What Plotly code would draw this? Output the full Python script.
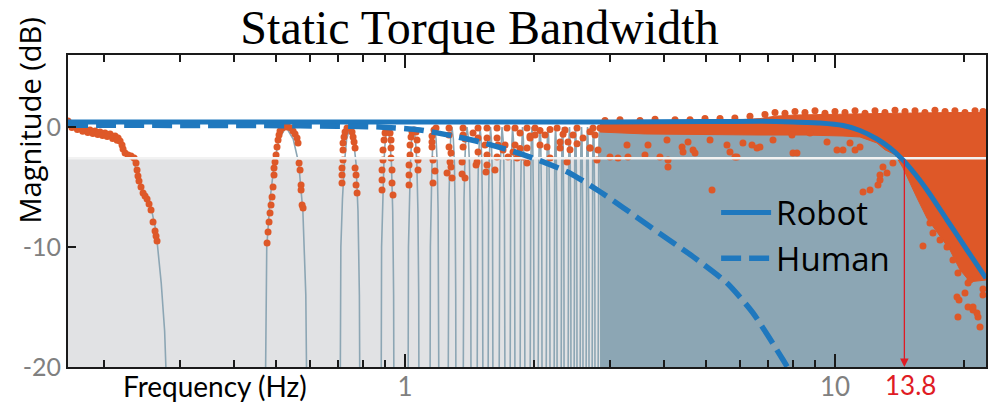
import numpy as np
import plotly.graph_objects as go

# ---------------- axes / reference values ----------------
x_range_hz = [0.1645, 22.45]
y_range_db = [-20, 6]
robot_dc_db = 0.4
cutoff_db = robot_dc_db - 3.0
bandwidth_arrow_hz = 14.5
bandwidth_label = "13.8"

x_tick_vals = [1, 10]
x_tick_text = ["1", "10"]
x_minor_vals = [0.2, 0.3, 0.4, 0.5, 0.6, 0.7, 0.8, 0.9, 2, 3, 4, 5, 6, 7, 8, 9, 20]
y_tick_vals = [0, -10, -20]
y_tick_text = ["0", "-10", "-20"]

# ---------------- model curves ----------------
robot_hz = [0.1645, 1, 3, 5, 6.7, 7.985, 9.23, 10.44, 11.43, 12.52, 13.43, 14.39, 15.35, 16.37, 18.22, 20.28, 22.45]
robot_db = [0.42, 0.42, 0.42, 0.45, 0.48, 0.42, 0.33, 0.12, -0.29, -1.0, -1.75, -2.75, -3.92, -5.25, -7.75, -10.25, -12.6]

human_hz = [0.1645, 0.57, 0.875, 1.084, 1.273, 1.494, 1.755, 2.059, 2.419, 2.842, 3.212, 3.711, 4.675, 5.609, 6.447, 7.57, 8.2]
human_db = [0.15, 0.1, 0.0, -0.25, -0.7, -1.25, -1.95, -2.8, -3.85, -5.4, -6.7, -8.3, -10.8, -13.0, -15.5, -19.4, -21.5]

# ---------------- human measurement (comb of lobes) ----------------
first_lobe_hz = [0.1645, 0.1754, 0.1881, 0.1984, 0.2094, 0.2151, 0.2209, 0.2257, 0.2318, 0.2368, 0.2419,
                 0.2459, 0.2525, 0.258, 0.2622, 0.265, 0.271, 0.276, 0.281]
first_lobe_db = [0.3, 0.0, -0.25, -0.5, -0.67, -0.92, -1.6, -2.3, -2.5, -3.5, -4.8,
                 -5.6, -6.3, -7.1, -8.3, -9.5, -13, -17, -25]
lobe_start_hz = [0.4726, 0.7062, 0.8796, 1.0162, 1.1432, 1.2589, 1.3645, 1.4705, 1.5596, 1.6543, 1.7549,
                 1.8513, 1.953, 2.038, 2.128, 2.221, 2.306, 2.394, 2.472, 2.553, 2.636, 2.722, 2.811]
lobe_end_hz = [0.5918, 0.7857, 0.9427, 1.0779, 1.1996, 1.3137, 1.4243, 1.5185, 1.6021, 1.7086, 1.8026,
               1.9011, 1.995, 2.083, 2.174, 2.258, 2.344, 2.432, 2.512, 2.594, 2.679, 2.766, 2.857]
lobe_profile_t = [0, 0.04, 0.12, 0.22, 0.33, 0.5, 0.67, 0.8, 0.9, 0.97, 1]
lobe_profile_db = [-25, -10, -6, -3, -1, 0, -1, -3, -7, -14, -25]
dense_band_hz = [2.85, 22.45]
dense_band_top_db = 0.2
dense_band_floor_db = -25

# ---------------- robot measurement (orange) ----------------
orange_cloud_hz = [2.84, 3.62, 4.60, 5.61, 6.69, 7.25, 8.07, 10.84, 14.17, 18.51, 22.45,
                   22.45, 20.61, 19.53, 18.51, 17.55, 16.37, 15.51, 14.94, 14.39, 13.79, 13.07, 12.52,
                   11.43, 10.44, 8.52, 6.69, 4.60, 3.62, 2.84]
orange_cloud_db = [0.4, 0.45, 0.5, 0.55, 0.7, 0.9, 1.0, 1.1, 1.15, 1.2, 1.2,
                   -12.75, -12.9, -11.9, -10.25, -9.1, -7.6, -5.9, -4.6, -3.4, -2.3, -1.9, -1.33,
                   -0.83, -0.75, -0.67, -0.67, -0.58, -0.58, -0.42]

low_dots_hz = [
    0.1645, 0.1663, 0.1708, 0.1754, 0.1802, 0.1851, 0.1902, 0.1953, 0.2006, 0.2061, 0.2117, 0.2151, 0.2174,
    0.2197, 0.2209, 0.2233, 0.2269, 0.2306, 0.2344, 0.2368, 0.2381, 0.2393, 0.2406, 0.2432, 0.2459, 0.2485,
    0.2512, 0.2539, 0.2566, 0.2594, 0.2622, 0.2636, 0.2650,
    0.1680, 0.1730, 0.1780, 0.1830, 0.1880, 0.1930, 0.1980, 0.2030, 0.2090, 0.2140,
    0.4777, 0.4802, 0.4828, 0.4853, 0.4880, 0.4906, 0.4932, 0.4958, 0.4958, 0.4985, 0.5012, 0.5038, 0.5066,
    0.5093, 0.5120, 0.5176, 0.5259, 0.5345, 0.5432, 0.5490, 0.5549, 0.5609, 0.5639, 0.5670, 0.5700, 0.5731,
    0.5731, 0.5762, 0.5793,
    0.7136, 0.7136, 0.7136, 0.7175, 0.7175, 0.7175, 0.7213, 0.7253, 0.7330, 0.7450, 0.7530, 0.7572, 0.7612,
    0.7653, 0.7653, 0.7693, 0.7693, 0.7736,
    0.8841, 0.8841, 0.8841, 0.8888, 0.8888, 0.8937, 0.8985, 0.9033, 0.9130, 0.9229, 0.9278, 0.9278, 0.9278,
    0.9328, 0.9328, 0.9378,
    1.0217, 1.0217, 1.0217, 1.0271, 1.0271, 1.0327, 1.0382, 1.0494, 1.0607, 1.0664, 1.0664, 1.0720, 1.0720,
]
low_dots_db = [
    0.5, 0.25, 0.08, -0.08, -0.17, -0.25, -0.33, -0.42, -0.5, -0.58, -0.75, -0.92, -1.17,
    -1.5, -1.83, -2.17, -2.33, -2.42, -2.58, -3.0, -3.58, -4.08, -4.5, -5.0, -5.5, -5.75,
    -6.0, -6.42, -6.92, -7.92, -8.67, -9.08, -9.5,
    -0.05, -0.2, -0.35, -0.45, -0.55, -0.62, -0.7, -0.8, -0.95, -1.1,
    -9.67, -8.75, -7.92, -7.17, -6.5, -5.83, -5.0, -4.0, -3.42, -2.92, -2.33, -1.67, -1.08,
    -0.67, -0.33, -0.08, 0.0, 0.0, -0.08, -0.33, -0.58, -0.92, -1.33, -3.0, -3.58, -4.83,
    -5.25, -6.5, -6.75,
    -4.67, -4.0, -3.42, -2.75, -1.92, -1.33, -0.83, -0.42, -0.08, -0.08, -0.42, -0.83, -1.25,
    -1.75, -3.42, -4.0, -4.83, -5.5,
    -5.25, -4.42, -3.58, -2.75, -1.92, -1.08, -0.5, -0.25, -0.25, -0.5, -1.08, -1.75, -2.58,
    -3.58, -4.67, -5.67,
    -4.83, -4.0, -3.17, -2.33, -1.5, -0.83, -0.42, -0.25, -0.42, -1.08, -1.92, -2.75, -3.58,
]

mid_dots_hz = [
    1.1555, 1.1555, 1.1617, 1.1742, 1.1679, 1.1805, 1.1617, 1.1555,
    1.2657, 1.2657, 1.2657, 1.2794, 1.2725, 1.2794, 1.2862, 1.2522,
    1.3645, 1.3645, 1.3645, 1.3572, 1.3572, 1.3791, 1.3791,
    1.4784, 1.4784, 1.4784, 1.4705, 1.4629, 1.4395,
    1.5512, 1.5512, 1.5512, 1.5512, 1.5430, 1.5346,
    1.6368, 1.6368, 1.6455, 1.6189, 1.6368,
    1.7269, 1.7086, 1.6904, 1.7361,
    1.8026, 1.8026, 1.7832, 1.8219, 1.8513, 1.8513,
    1.9218, 1.9218, 1.9218, 1.8812, 1.9530,
    2.0060, 2.0060, 1.9530, 2.0606, 2.0606,
    2.1163, 2.1392, 2.1742, 2.1742,
    2.2577, 2.2943, 2.2943,
    2.3560, 2.3812, 2.3940, 2.3310,
    2.4587, 2.5119, 2.5942, 2.4196, 2.5119,
    2.6928, 2.7364, 2.7660, 2.8408, 2.6928,
]
mid_dots_db = [
    -1.25, -1.67, -2.75, -3.67, -0.25, -0.08, -4.67, -0.75,
    -0.08, -0.67, -1.67, -2.17, -2.92, -3.33, -4.25, -3.83,
    -0.08, -0.67, -1.67, -2.92, -3.92, -4.25, -1.0,
    -0.08, -0.92, -2.08, -2.92, -3.17, -0.5,
    -0.08, -0.92, -2.33, -3.17, -3.75, -1.5,
    -0.08, -0.92, -1.5, -3.58, -2.5,
    -0.08, -1.5, -1.92, -2.5,
    -0.08, -1.5, -2.08, -2.58, -0.5, -1.8,
    -0.08, -1.75, -3.0, -2.5, -0.75,
    -0.08, -0.67, -0.92, -1.5, -0.3,
    -0.67, -1.67, -2.58, -0.2,
    -0.08, -1.25, -1.75,
    -0.25, -2.92, -1.25, -0.6,
    -0.67, -0.08, -0.92, -1.9, -1.4,
    -1.75, -0.08, -0.67, -0.08, -0.4,
]

high_dots_hz = [
    2.693, 2.811, 2.796, 2.997, 3.129, 3.283, 3.300, 3.615, 3.674, 3.917, 4.089, 4.089, 4.067, 4.409,
    4.432, 4.552, 4.726, 4.676, 5.176, 5.121, 5.608, 5.699, 5.853, 5.916, 6.109, 6.412, 6.586, 6.692,
    7.175, 7.943, 7.985, 8.157, 8.748, 9.581, 10.108, 10.437, 10.837, 11.134, 11.434, 11.62, 12.064,
    12.589, 12.726, 12.726, 12.93, 13.21, 13.64, 16.02, 16.63, 16.90, 17.55, 18.22, 18.81, 19.32,
    19.43, 19.32, 19.22, 20.06, 20.39, 20.39, 20.61, 20.94, 20.94, 21.51, 21.74, 21.39, 22.09, 22.09,
    2.918, 3.162, 3.520, 3.815, 4.246, 4.601, 4.985, 5.402, 5.85, 6.343, 6.874, 7.253, 7.650, 8.072,
    8.515, 8.985, 9.478, 10.0, 10.55, 11.134, 11.746, 12.39, 13.07, 13.79, 14.55, 15.35, 16.19, 17.08,
    18.03, 19.01, 20.06, 21.17, 22.09,
]
high_dots_db = [
    -1.75, -1.92, -2.75, -2.5, -2.58, -1.5, -2.5, -2.33, -1.5, -2.5, -2.75, -3.33, -1.08, -1.67,
    -2.08, -1.25, -2.17, -1.92, -5.25, -1.08, -1.5, -2.08, -2.5, -2.5, -1.33, -1.5, -1.75, -1.67,
    -1.08, -0.67, -2.17, -2.17, -0.5, -1.25, -1.92, -1.92, -1.33, -1.92, -1.67, -5.42, -5.25,
    -4.83, -4.42, -4.0, -3.33, -3.83, -3.0, -9.92, -8.0, -8.83, -9.42, -10.0, -11.08, -12.17,
    -14.42, -15.83, -14.17, -13.83, -13.0, -15.0, -12.75, -15.25, -15.0, -15.83, -16.67, -15.5, -14.0, -13.5,
    0.55, 0.6, 0.55, 0.65, 0.6, 0.6, 0.7, 0.7, 0.75, 0.9, 1.05, 1.2, 1.15, 1.3,
    1.2, 1.35, 1.15, 1.3, 1.2, 1.35, 1.15, 1.35, 1.2, 1.4, 1.3, 1.35, 1.2, 1.4,
    1.3, 1.35, 1.2, 1.35, 1.3,
]

# ---------------- colours ----------------
BLUE = "#1f78be"
ORANGE = "#de5828"
STEEL = "#8ca6b4"
LIGHT_GRAY = "#e1e2e4"
RED = "#e01b24"
TICK_GRAY = "#808080"
AXIS = "#1a1a1a"

# build comb trace from lobe edges
comb_x = list(first_lobe_hz)
comb_y = list(first_lobe_db)
for a, b in zip(lobe_start_hz, lobe_end_hz):
    for t, d in zip(lobe_profile_t, lobe_profile_db):
        comb_x.append(a * (b / a) ** t)
        comb_y.append(d)

fig = go.Figure()

fig.add_trace(go.Scatter(x=comb_x, y=comb_y, mode="lines",
                         line=dict(color=STEEL, width=1.6), showlegend=False, hoverinfo="skip"))
fig.add_trace(go.Scatter(x=[dense_band_hz[0], dense_band_hz[0], dense_band_hz[1], dense_band_hz[1]],
                         y=[dense_band_floor_db, dense_band_top_db, dense_band_top_db, dense_band_floor_db],
                         mode="lines", fill="toself", fillcolor=STEEL, line=dict(color=STEEL, width=1),
                         showlegend=False, hoverinfo="skip"))
fig.add_trace(go.Scatter(x=orange_cloud_hz, y=orange_cloud_db, mode="lines", fill="toself",
                         fillcolor=ORANGE, line=dict(color=ORANGE, width=1),
                         showlegend=False, hoverinfo="skip"))
for xs, ys in [(low_dots_hz, low_dots_db), (mid_dots_hz, mid_dots_db), (high_dots_hz, high_dots_db)]:
    fig.add_trace(go.Scatter(x=xs, y=ys, mode="markers",
                             marker=dict(color=ORANGE, size=7, line=dict(width=0)),
                             showlegend=False, hoverinfo="skip"))
fig.add_trace(go.Scatter(x=x_range_hz, y=[cutoff_db, cutoff_db], mode="lines",
                         line=dict(color="#f2f2f2", width=2.5), showlegend=False, hoverinfo="skip"))
fig.add_trace(go.Scatter(x=robot_hz, y=robot_db, mode="lines", name="Robot",
                         line=dict(color=BLUE, width=5, shape="spline", smoothing=0.6)))
fig.add_trace(go.Scatter(x=human_hz, y=human_db, mode="lines", name="Human",
                         line=dict(color=BLUE, width=5.5, dash="20px,8px", shape="spline", smoothing=0.6)))

# background below -3 dB
fig.add_shape(type="rect", xref="paper", x0=0, x1=1, yref="y", y0=y_range_db[0], y1=cutoff_db,
              fillcolor=LIGHT_GRAY, line=dict(width=0), layer="below")

# bandwidth arrow
arrow_x = np.log10(bandwidth_arrow_hz)
fig.add_annotation(x=arrow_x, y=y_range_db[0], ax=arrow_x, ay=cutoff_db, xref="x", yref="y",
                   axref="x", ayref="y", showarrow=True, arrowhead=2, arrowsize=1.3, arrowwidth=1.3,
                   arrowcolor=RED, text="")
fig.add_annotation(x=arrow_x, y=0, xref="x", yref="paper", xanchor="center", yanchor="top", xshift=6, yshift=0,
                   text=bandwidth_label, showarrow=False, font=dict(family="Lato", size=26, color=RED))
fig.add_annotation(x=0.160, y=0, xref="paper", yref="paper", xanchor="center", yanchor="top", yshift=0,
                   text="Frequency (Hz)", showarrow=False, font=dict(family="Lato", size=28, color="black"))
fig.add_annotation(x=-0.0414, y=0.79, xref="paper", yref="paper", xanchor="center", yanchor="middle",
                   text="Magnitude (dB)", textangle=-90, showarrow=False,
                   font=dict(family="Open Sans", size=29, color="black"))

fig.update_layout(
    template="none",
    width=992, height=405,
    margin=dict(l=68, r=6, t=55, b=38),
    paper_bgcolor="white", plot_bgcolor="white",
    title=dict(text="Static Torque Bandwidth", x=0.4834, xref="container", xanchor="center",
               y=1 - 10 / 405, yref="container", yanchor="top", pad=dict(t=0, b=0, l=0, r=0),
               font=dict(family="Liberation Serif", size=48, color="black")),
    legend=dict(x=0.706, y=0.585, xanchor="left", yanchor="top", bgcolor="rgba(0,0,0,0)",
                font=dict(family="Open Sans", size=33, color="black"), tracegroupgap=0,
                itemwidth=50, borderwidth=0),
    showlegend=True,
    xaxis=dict(type="log", range=[np.log10(x_range_hz[0]), np.log10(x_range_hz[1])],
               tickmode="array", tickvals=x_tick_vals, ticktext=x_tick_text,
               ticks="inside", ticklen=13, tickwidth=2, tickcolor=AXIS, ticklabelstandoff=-4,
               showline=True, linecolor=AXIS, linewidth=2, mirror="allticks",
               showgrid=False, zeroline=False,
               tickfont=dict(family="Lato", size=26, color=TICK_GRAY),
               minor=dict(tickmode="array", tickvals=x_minor_vals, ticks="inside", ticklen=7,
                          tickwidth=1.6, tickcolor=AXIS, showgrid=False)),
    yaxis=dict(range=y_range_db, tickmode="array", tickvals=y_tick_vals, ticktext=y_tick_text,
               ticks="inside", ticklen=8, tickwidth=2, tickcolor=AXIS,
               showline=True, linecolor=AXIS, linewidth=2, mirror=True,
               showgrid=False, zeroline=False,
               tickfont=dict(family="Lato", size=25, color=TICK_GRAY)),
)

fig.write_html("out.html")
